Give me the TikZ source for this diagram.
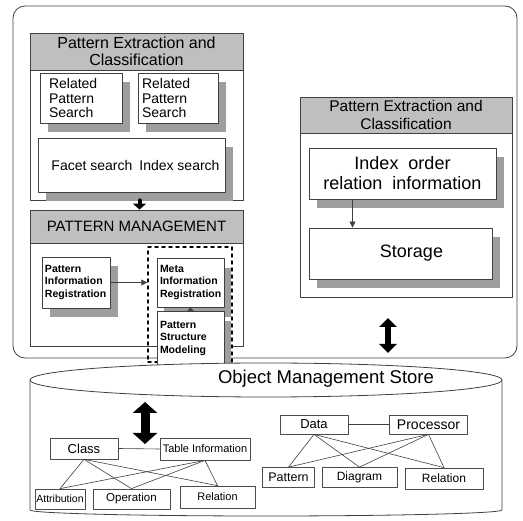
\documentclass[tikz,border=0pt]{standalone}
\usepackage{fontspec}
\setmainfont{Liberation Sans}
\usetikzlibrary{arrows.meta,shadows}

\begin{document}
\begin{tikzpicture}[line cap=round,line join=round,x=1pt,y=-1pt,
    frm/.style={draw=black!75,line width=0.8pt},
    head/.style={frm,fill=black!25,align=center},
    box/.style={frm,fill=white,inner sep=3pt},
    shbox/.style={box,drop shadow={shadow xshift=8pt,shadow yshift=-9pt,fill=black!38,opacity=1}},
    sidebox/.style={box,drop shadow={shadow xshift=7pt,shadow yshift=-10pt,fill=black!38,opacity=1}},
    sbox/.style={draw=black!70,line width=0.7pt,fill=white,inner sep=1pt},
    lnk/.style={draw=black!75,line width=0.6pt},
    thickdown/.style={line width=4pt,-{Triangle[width=13pt,length=6pt]}},
    dblR/.style={line width=6pt,{Triangle[width=17pt,length=9pt]}-{Triangle[width=17pt,length=9pt]}},
    dblL/.style={line width=9pt,{Triangle[width=24pt,length=11pt]}-{Triangle[width=24pt,length=11pt]}}]
        \useasboundingbox (0,0) rectangle (523,521);
        \draw[frm,rounded corners=12pt] (13,6) rectangle (517,358);
        % left upper group
        \node[frm,minimum width=213,minimum height=167] (pecL) at (136.5,116.5) {};
        \node[head,minimum width=213,minimum height=37,font=\fontsize{16}{17}\selectfont] (pecLhead) at (136.5,51.5) {Pattern Extraction and\\Classification};
        \node[shbox,minimum width=82,minimum height=50,text width=64,align=left,font=\fontsize{14}{15}\selectfont] (rps1) at (81,98) {Related\\Pattern\\Search};
        \node[shbox,minimum width=80,minimum height=50,text width=72,align=left,font=\fontsize{14}{15}\selectfont] (rps2) at (178,98) {Related\\Pattern\\Search};
        \node[shbox,minimum width=187,minimum height=54,font=\fontsize{14}{15}\selectfont] (search) at (131.5,165) {\hspace{8pt}Facet search\hspace{7pt}Index search};
        \node[frm,minimum width=213,minimum height=136] (pm) at (136.5,278) {};
        \node[head,minimum width=213,minimum height=33,font=\fontsize{15}{16}\selectfont] (pmhead) at (136.5,226.5) {PATTERN MANAGEMENT};
        \draw[thickdown] ([xshift=3pt]pecL.south) -- ([xshift=3pt]pmhead.north);
        \node[shbox,minimum width=68,minimum height=51,text width=62,align=left,font=\bfseries\fontsize{10.5}{12.5}\selectfont] (pir) at (76,282.5) {Pattern\\Information\\Registration};
        \node[draw=black,line width=1.5pt,dash pattern=on 3pt off 4pt,minimum width=84,minimum height=115] (meta) at (190,304.5) {};
        \node[sidebox,minimum width=67,minimum height=49,text width=61,align=left,font=\bfseries\fontsize{10.5}{12.5}\selectfont] (mir) at (190.5,282.5) {Meta\\Information\\Registration};
        \node[sidebox,minimum width=67,minimum height=55,text width=61,align=left,font=\bfseries\fontsize{10.5}{12.5}\selectfont] (psm) at (190.5,338.5) {Pattern\\Structure\\Modeling};
        \draw[lnk,-{Triangle[length=6pt,width=6pt]}] (pir.east) -- (pir.east -| meta.west);
        \draw[lnk,-{Triangle[length=4pt,width=7pt]}] (psm.north) -- (mir.south);
        % right group
        \node[frm,minimum width=212,minimum height=200] (pecR) at (406,197) {};
        \node[head,minimum width=212,minimum height=36,font=\fontsize{15.5}{18}\selectfont] (pecRhead) at (406,115) {Pattern Extraction and\\Classification};
        \node[shbox,minimum width=187,minimum height=51,align=center,font=\fontsize{18}{20}\selectfont] (iori) at (402.5,173.5) {Index\ \ order\\relation\ \ information};
        \node[shbox,minimum width=183,minimum height=51,font=\fontsize{18}{20}\selectfont] (storage) at (400.5,253.5) {\hspace{22pt}Storage};
        \draw[lnk,-{Triangle[length=6pt,width=6pt]}] ([xshift=-50pt]iori.south) -- ([xshift=-50pt]iori.south |- storage.north);
        \coordinate (upR) at (388,318);
        \coordinate (loR) at (388,353);
        \draw[dblR] (upR) -- (loR);
        % store
        \draw[frm,fill=white] (30,380) -- (30,510) arc[start angle=180,end angle=0,x radius=236,y radius=6] -- (502,380) arc[start angle=0,end angle=-180,x radius=236,y radius=17] -- cycle;
        \draw[frm] (30,380) arc[start angle=180,end angle=0,x radius=236,y radius=17];
        \node[font=\fontsize{18.5}{20}\selectfont] (oms) at (326,379) {Object Management Store};
        \coordinate (upL) at (145,402);
        \coordinate (loL) at (145,444);
        \draw[dblL] (upL) -- (loL);
        \node[sbox,minimum width=68,minimum height=21,font=\fontsize{13}{14}\selectfont] (cls) at (84,448.5) {Class};
        \node[sbox,minimum width=90,minimum height=22,font=\fontsize{11}{12}\selectfont] (tbl) at (205,449) {Table Information};
        \node[sbox,minimum width=50,minimum height=20,font=\fontsize{10.5}{12}\selectfont] (attr) at (60,499) {Attribution};
        \node[sbox,minimum width=77,minimum height=20,font=\fontsize{11.5}{12}\selectfont] (oper) at (131.5,499) {Operation};
        \node[sbox,minimum width=75,minimum height=22,font=\fontsize{11}{12}\selectfont] (relA) at (217.5,497) {Relation};
        \draw[lnk] (cls.east) -- (tbl.west);
        \foreach \a in {cls,tbl}
            \foreach \b in {attr,oper,relA}
                \draw[lnk] (\a.south) -- (\b.north);
        \node[sbox,minimum width=68,minimum height=19,font=\fontsize{13}{14}\selectfont] (data) at (314,424.5) {Data};
        \node[sbox,minimum width=78,minimum height=19,font=\fontsize{14}{15}\selectfont] (proc) at (428.5,424.5) {Processor};
        \node[sbox,minimum width=52,minimum height=20,font=\fontsize{12.5}{14}\selectfont] (patt) at (288.5,477.5) {Pattern};
        \node[sbox,minimum width=75,minimum height=20,font=\fontsize{12}{14}\selectfont] (diag) at (359.5,477.5) {Diagram};
        \node[sbox,minimum width=78,minimum height=21,font=\fontsize{12}{14}\selectfont] (relB) at (444,478.5) {Relation};
        \draw[lnk] (data.east) -- (proc.west);
        \foreach \a in {data,proc}
            \foreach \b in {patt,diag,relB}
                \draw[lnk] (\a.south) -- (\b.north);
    \end{tikzpicture}
\end{document}
